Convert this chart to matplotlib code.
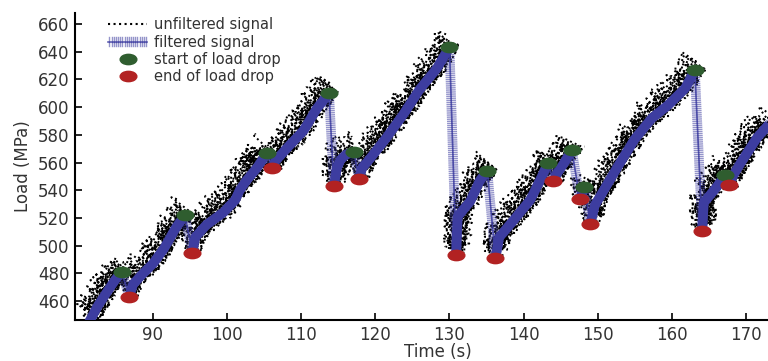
import matplotlib
matplotlib.use("Agg")
import matplotlib.pyplot as plt
import numpy as np
from matplotlib import patheffects
from matplotlib.path import Path
from matplotlib.transforms import Affine2D
from matplotlib.lines import Line2D

# filtered load curve, vertices (time in s, load in MPa)
filt_time = [81.2, 82.5, 84.1, 85.0, 85.8, 86.8,
             87.3, 88.5, 90.0, 91.5, 93.1, 94.3, 95.3,
             95.7, 97.2, 99.5, 101.1, 101.7, 102.6, 104.0, 105.4, 106.1,
             106.5, 108.0, 110.3, 112.1, 113.75, 114.4,
             114.8, 115.3, 116.1, 117.1, 117.8,
             118.2, 119.3, 121.5, 123.8, 126.0, 128.3, 130.0, 130.9,
             131.1, 132.8, 134.1, 135.1, 136.2,
             136.7, 138.6, 140.9, 142.2, 143.3, 144.0,
             144.5, 145.5, 146.5, 147.6, 148.2, 149.0,
             149.6, 152.8, 155.0, 157.3, 159.5, 161.8, 163.1, 164.1,
             164.3, 166.0, 167.2, 167.7,
             168.2, 169.2, 171.5, 173.5]
filt_load = [443, 456, 469, 476, 481, 463,
             472, 479, 487, 498, 513, 522, 495,
             506, 515, 524, 533, 540, 547, 556, 567, 556,
             561, 570, 583, 599, 610, 543,
             556, 562, 566, 567.6, 548,
             556, 563, 578, 595, 613, 628, 643.4, 493,
             521, 532, 547, 554, 491,
             506, 518, 533, 547, 559.6, 546.6,
             552, 560, 569, 533.6, 542.3, 515.6,
             529, 558, 577, 592, 601.5, 613.6, 626.8, 510.5,
             531, 542, 551, 543.8,
             550, 559, 578, 590]

# detected load drops
start_time = [85.8, 94.3, 105.4, 113.75, 117.1, 130.0, 135.1, 143.3, 146.5, 148.2, 163.1, 167.2]
start_load = [481, 522, 567, 610, 567.6, 643.4, 554, 559.6, 569, 542.3, 626.8, 551]
end_time = [86.8, 95.3, 106.1, 114.4, 117.8, 130.9, 136.2, 144.0, 147.6, 149.0, 164.1, 167.7]
end_load = [463, 495, 556, 543, 548, 493, 491, 546.6, 533.6, 515.6, 510.5, 543.8]

# the raw signal runs a little above the filtered one (MPa)
raw_lead = [0, 3, 6, 8]

BLUE = '#3d3da0'
GREEN = '#2f5d2f'
RED = '#b22222'
TEXT = '#333333'

plt.rcParams['font.family'] = 'DejaVu Sans'

fig = plt.figure(figsize=(7.68, 3.61), dpi=100)
ax = fig.add_axes([75 / 768, 41 / 361, 693 / 768, 307.3 / 361])

t = np.array(filt_time)
y = np.array(filt_load)

# split the curve into rising parts (drops go between them)
rises = []
cur = [0]
for i in range(1, len(t)):
    if y[i] < y[i - 1]:
        rises.append(cur)
        cur = [i]
    else:
        cur.append(i)
rises.append(cur)

rise_t, rise_y = [], []
for idx in rises:
    rise_t += list(t[idx]) + [np.nan]
    rise_y += list(y[idx]) + [np.nan]
rise_t = np.array(rise_t)
rise_y = np.array(rise_y)

# unfiltered signal: dotted black trace, jittered by the renderer's sketch
for k, lead in enumerate(raw_lead):
    raw, = ax.plot(rise_t, rise_y + lead, color='black', ls=':', lw=1.4, zorder=1)
    raw.set_sketch_params(scale=9 + 2 * k, length=1.5 + k, randomness=6)

# filtered signal: ticked stroke, solid where it rises
ticks = [patheffects.TickedStroke(angle=90, spacing=1.5, length=2.0,
                                  linewidth=1.0, alpha=0.55),
         patheffects.TickedStroke(angle=-90, spacing=1.5, length=2.0,
                                  linewidth=1.0, alpha=0.55),
         patheffects.Normal()]
filt_line, = ax.plot(t, y, color=BLUE, lw=1.2, alpha=0.8, zorder=2,
                     path_effects=ticks, label='filtered signal')
ax.plot(rise_t, rise_y, color=BLUE, lw=7, solid_capstyle='butt', zorder=3)

ellipse = Path.unit_circle().transformed(Affine2D().scale(1.0, 0.62))
start_pts, = ax.plot(start_time, start_load, ls='none', marker=ellipse, ms=12,
                     color=GREEN, zorder=4, label='start of load drop')
end_pts, = ax.plot(end_time, end_load, ls='none', marker=ellipse, ms=12,
                   color=RED, zorder=4, label='end of load drop')

raw_handle = Line2D([], [], color='black', ls=':', lw=1.5, label='unfiltered signal')

ax.set_xlim(79.48, 172.97)
ax.set_ylim(446.3, 668.2)
ax.set_xticks(np.arange(90, 171, 10))
ax.set_yticks(np.arange(460, 661, 20))
for s in ['top', 'right']:
    ax.spines[s].set_visible(False)
for s in ['left', 'bottom']:
    ax.spines[s].set_linewidth(1.5)
ax.tick_params(direction='in', length=5, width=1.2, labelsize=12,
               labelcolor=TEXT, pad=4)

ax.set_xlabel('Time (s)', fontsize=12, color=TEXT)
ax.set_ylabel('Load (MPa)', fontsize=12, color=TEXT)
ax.xaxis.set_label_coords((438 - 75) / 693, -0.075)
ax.yaxis.set_label_coords(-0.062, 0.5)

leg = ax.legend(handles=[raw_handle, filt_line, start_pts, end_pts],
                loc='upper left', bbox_to_anchor=(0.044, 0.994), frameon=False,
                fontsize=10.5, handlelength=2.65, handletextpad=0.5,
                labelspacing=0.15, borderaxespad=0, borderpad=0.2)
for txt in leg.get_texts():
    txt.set_color(TEXT)

fig.savefig('out.png', dpi=100)
